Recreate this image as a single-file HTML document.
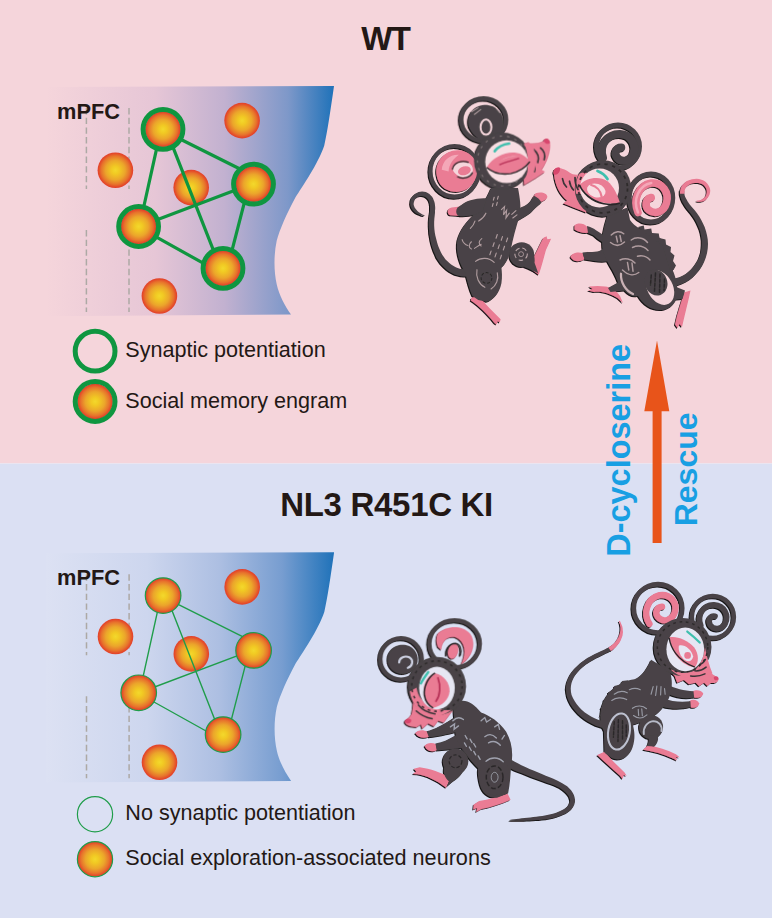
<!DOCTYPE html>
<html lang="en">
<head>
<meta charset="utf-8">
<title>Graphical abstract</title>
<style>
html,body{margin:0;padding:0;background:#fff;}
body{width:773px;height:920px;overflow:hidden;}
svg{display:block;}
text{font-family:"Liberation Sans",sans-serif;}
.b{font-weight:bold;}
</style>
</head>
<body>
<svg width="773" height="920" viewBox="0 0 773 920">
<defs>
  <radialGradient id="neu" cx="50%" cy="50%" r="50%">
    <stop offset="0" stop-color="#f3d82c"/>
    <stop offset="0.22" stop-color="#f1c923"/>
    <stop offset="0.55" stop-color="#eba52b"/>
    <stop offset="0.8" stop-color="#e7732c"/>
    <stop offset="0.93" stop-color="#e44d2a"/>
    <stop offset="1" stop-color="#e33f2a"/>
  </radialGradient>
  <linearGradient id="gtop" x1="0" y1="0" x2="1" y2="0">
    <stop offset="0" stop-color="#f5d5db"/>
    <stop offset="0.38" stop-color="#e6c6d6"/>
    <stop offset="0.62" stop-color="#c2b1d0"/>
    <stop offset="0.84" stop-color="#7e98c9"/>
    <stop offset="1" stop-color="#1f72b9"/>
  </linearGradient>
  <linearGradient id="gbot" x1="0" y1="0" x2="1" y2="0">
    <stop offset="0" stop-color="#dce1f3"/>
    <stop offset="0.35" stop-color="#cdd6ee"/>
    <stop offset="0.6" stop-color="#adbfe2"/>
    <stop offset="0.82" stop-color="#779dd0"/>
    <stop offset="1" stop-color="#1f72b9"/>
  </linearGradient>
  <path id="ctx" d="M46,87 L334,86 C330.3,112 327.3,132 324.2,145.7 C318,164 302,187 295.5,197.3 C287,213 279.5,230 276.7,240.8 C273.5,256 274,272 276.7,284.2 C279,295 285,306 291,314.6 L46,316.2 Z"/>
  <g id="dash" fill="none" stroke="#ada9a5" stroke-width="1.5" stroke-dasharray="6.4 3.3">
    <path d="M86.4,108 V189"/><path d="M86.4,230 V312"/>
    <path d="M129,108 V189"/><path d="M129,230 V312"/>
  </g>
  <g id="plain">
    <circle cx="242.1" cy="120.6" r="17.8" fill="url(#neu)"/>
    <circle cx="115.4" cy="170.2" r="17.8" fill="url(#neu)"/>
    <circle cx="191.2" cy="187.6" r="17.8" fill="url(#neu)"/>
    <circle cx="159.4" cy="296" r="17.8" fill="url(#neu)"/>
  </g>
  <g id="gn">
    <circle cx="163" cy="129.3" r="17.8" fill="url(#neu)"/>
    <circle cx="253.5" cy="184.1" r="17.8" fill="url(#neu)"/>
    <circle cx="138.6" cy="226.5" r="17.8" fill="url(#neu)"/>
    <circle cx="223" cy="268.3" r="17.8" fill="url(#neu)"/>
  </g>
  <path id="net" d="M163,130.5 L253.5,175.75 M249.1,184.1 L227.4,268.3 M223,274.2 L138.6,227.2 M139.4,226.5 L160.9,129.3 M166,129.3 L220.5,268.3 M253.5,183.3 L138.6,226.7" fill="none" stroke-linejoin="round"/>
  <filter id="sh" x="-5%" y="-5%" width="110%" height="110%">
    <feOffset in="SourceAlpha" dx="-1.3" dy="1.3" result="o"/>
    <feFlood flood-color="#171314"/>
    <feComposite in2="o" operator="in"/>
    <feMerge><feMergeNode/><feMergeNode in="SourceGraphic"/></feMerge>
  </filter>
</defs>

<rect x="0" y="0" width="772" height="463.5" fill="#f5d5db"/>
<rect x="0" y="463.5" width="772" height="454.5" fill="#dbe0f3"/>

<!-- TOP PANEL -->
<text class="b" x="385.3" y="49.7" font-size="33" text-anchor="middle" fill="#231815" letter-spacing="-1.5">WT</text>
<use href="#ctx" fill="url(#gtop)"/>
<use href="#dash"/>
<text class="b" x="57" y="119.4" font-size="21.8" fill="#231815">mPFC</text>
<use href="#plain"/>
<use href="#net" stroke="#0f9640" stroke-width="3.2"/>
<use href="#gn"/>
<g stroke="#0f9640" stroke-width="5" fill="none">
  <circle cx="163" cy="129.3" r="19.9"/>
  <circle cx="253.5" cy="184.1" r="19.9"/>
  <circle cx="138.6" cy="226.5" r="19.9"/>
  <circle cx="223" cy="268.3" r="19.9"/>
</g>
<circle cx="95.1" cy="351.2" r="19.9" fill="none" stroke="#0f9640" stroke-width="5"/>
<circle cx="95.1" cy="401.5" r="17.8" fill="url(#neu)"/>
<circle cx="95.1" cy="401.5" r="19.9" fill="none" stroke="#0f9640" stroke-width="5"/>
<text x="125.3" y="357.1" font-size="21.58" fill="#231815">Synaptic potentiation</text>
<text x="125.3" y="407.5" font-size="21.58" fill="#231815">Social memory engram</text>

<!-- BOTTOM PANEL -->
<text class="b" x="386.6" y="515.8" font-size="33" text-anchor="middle" fill="#231815" letter-spacing="-0.3">NL3 R451C KI</text>
<g transform="translate(0.1,466.3)">
  <use href="#ctx" fill="url(#gbot)"/>
  <use href="#dash"/>
  <use href="#plain"/>
  <use href="#net" stroke="#1f9d4a" stroke-width="1.4"/>
  <use href="#gn"/>
  <g stroke="#1f9d4a" stroke-width="1.2" fill="none">
    <circle cx="163" cy="129.3" r="17.8"/>
    <circle cx="253.5" cy="184.1" r="17.8"/>
    <circle cx="138.6" cy="226.5" r="17.8"/>
    <circle cx="223" cy="268.3" r="17.8"/>
  </g>
</g>
<text class="b" x="57" y="585" font-size="21.8" fill="#231815">mPFC</text>
<circle cx="95" cy="814.2" r="17.6" fill="none" stroke="#1f9d4a" stroke-width="1.2"/>
<circle cx="95" cy="859.2" r="17.6" fill="url(#neu)" stroke="#1f9d4a" stroke-width="1.2"/>
<text x="125.3" y="820" font-size="21.58" fill="#231815">No synaptic potentiation</text>
<text x="125.3" y="865.4" font-size="21.63" fill="#231815">Social exploration-associated neurons</text>

<!--MICE-START-->
<g filter="url(#sh)"><g transform="translate(400,190) scale(0.20699)">
<path d="M324,382L312,383L300,382L289,380L278,377L267,372L257,366L247,360L237,352L228,343L219,334L211,323L204,313L197,299L190,284L184,269L179,253L175,237L171,221L168,205L166,189L165,172L165,155L166,139L168,121L169,111L169,102L170,92L170,83L169,74L168,65L166,57L163,49L160,41L155,33L149,26L142,19L134,14L125,10L116,8L107,7L98,8L89,10L81,14L73,18L66,24L60,31L55,38L51,47L50,56L49,65L50,74L53,83L57,91L62,98L69,105L76,111L85,116L95,120L106,124L117,126L119,122L108,118L99,112L91,107L84,101L79,95L74,89L70,83L68,77L66,71L66,65L67,59L69,53L71,47L75,42L79,38L84,35L89,32L95,30L101,29L107,29L112,30L118,31L123,34L128,37L132,41L136,46L139,51L141,57L143,63L144,69L145,76L145,83L145,91L145,100L144,109L142,119L140,136L139,155L139,173L140,191L141,209L144,226L147,244L151,261L156,278L162,295L169,311L176,327L185,341L194,354L204,365L215,376L227,386L239,395L252,402L266,409L281,413L295,417L311,418L326,418Z" fill="#484346"/>
<path d="M345,522 L376,512 C412,548 452,592 486,624 L482,640 L472,634 L466,650 L456,642 C424,602 384,562 342,534 Z" fill="#ea7b94"/>
<path d="M636,345 C655,310 672,270 692,232 L708,224 L712,238 L730,236 L705,290 C694,330 684,372 670,410 L640,388 Z" fill="#ea7b94"/>
<path d="M300,78 L250,84 C228,88 224,112 242,122 L300,126 Z" fill="#ea7b94"/>
<path d="M640,40 L655,16 C680,6 712,14 712,34 C708,50 690,52 672,62 Z" fill="#ea7b94"/>
<path d="M440,-10 C420,40 390,80 350,125 C310,165 280,210 275,260 C272,310 290,360 315,400 C325,440 335,480 350,512 L378,532 L420,540 C450,530 480,500 490,450 C495,420 492,395 490,375 C510,360 525,330 535,290 C545,240 560,180 580,120 C585,80 580,40 570,-10 Z" fill="#484346"/>
<path d="M420,40 C380,40 330,45 300,70 L278,84 C268,100 270,112 280,124 C310,130 340,124 365,118 L400,100 Z" fill="#484346"/>
<path d="M560,95 C585,82 612,78 632,52 L648,28 C665,36 678,48 684,62 C668,72 650,92 636,106 C615,124 590,136 565,150 Z" fill="#484346"/>
<circle cx="588" cy="312" r="60" fill="#484346"/>
<path d="M620,270 C640,290 655,320 650,352 L668,402 C650,395 625,380 600,372 Z" fill="#484346"/>
<path d="M490,95 L505,80 L500,120 L515,98 L512,135 L528,112 M540,118 L560,100 M545,135 L565,120 M470,215 L464,233 M495,225 L489,243 M520,232 L514,250 M455,255 L449,273 M480,265 L474,283 M505,272 L499,290 M440,295 L434,313 M465,305 L459,323 M490,315 L484,333 M455,35 L451,49 M475,30 L471,44 M450,65 L446,79 M470,60 L466,74 M395,235 C380,245 378,262 392,270 M345,250 C330,262 332,280 345,285 M300,240 C305,255 315,265 328,268 M360,282 C372,274 380,268 392,262 M380,150 C395,140 408,128 415,112 M340,185 C350,175 358,165 362,150 M365,345 C390,325 430,325 455,350 M372,385 C365,420 380,455 410,470 M440,478 C465,462 478,430 470,400" fill="none" stroke="#f5d5db" stroke-width="5.5" stroke-linecap="round" opacity="0.6"/>
<circle cx="418" cy="425" r="26" fill="none" stroke="#2b2729" stroke-width="5" stroke-dasharray="14 9"/>
<circle cx="585" cy="310" r="30" fill="none" stroke="#f5d5db" stroke-width="5" stroke-dasharray="22 14" opacity="0.7"/>
<circle cx="585" cy="310" r="12" fill="none" stroke="#f5d5db" stroke-width="4" opacity="0.6"/>
</g>
<g transform="translate(420,90) scale(0.18111)">
<ellipse cx="351" cy="164" rx="124" ry="117" fill="none" stroke="#484346" stroke-width="25"/>
<path d="M275,215 C245,150 290,85 355,82 C420,80 470,130 460,195 C455,240 420,275 375,280 C330,282 295,255 275,215 Z" fill="#484346"/>
<ellipse cx="364" cy="205" rx="30" ry="42" fill="none" stroke="#f5d5db" stroke-width="11"/>
<path d="M285,120 L320,98 M300,135 L335,108 M420,100 L440,125" fill="none" stroke="#f5d5db" stroke-width="6" stroke-linecap="round" opacity="0.6"/>
<ellipse cx="191" cy="449" rx="133" ry="140" fill="none" stroke="#484346" stroke-width="23"/>
<path d="M92,472 C78,398 138,328 215,333 C280,338 324,392 316,455 C306,524 252,568 188,562 C136,556 100,524 92,472 Z" fill="#ea7b94"/>
<path d="M120,440 C125,390 165,355 215,358 C185,380 160,410 158,450 Z" fill="#f4a8b8"/>
<path d="M180,440 C185,405 225,390 262,400 C290,410 300,440 285,465 C262,495 205,490 180,440 Z" fill="#f5d5db"/>
<ellipse cx="245" cy="446" rx="36" ry="24" fill="#ea7b94" transform="rotate(-15 245 446)"/>
<path d="M178,440 C185,400 230,385 268,400 M205,478 C235,495 275,485 290,455" fill="none" stroke="#2b2729" stroke-width="7"/>
<path d="M560,300 C600,290 650,300 682,282 C688,262 712,262 718,290 C724,330 705,395 672,440 L690,452 C660,475 625,495 575,525 Z" fill="#ea7b94"/>
<path d="M682,282 C688,262 712,262 718,290 C712,300 695,302 682,282Z" fill="#d8476d"/>
<circle cx="455" cy="392" r="157" fill="#484346"/>
<path d="M575,290 C610,300 640,330 655,370 C650,420 620,470 585,500 C600,440 600,350 575,290Z" fill="#ea7b94"/>
<path d="M628,330 C650,345 660,375 650,400 M665,320 C685,335 692,360 685,385 M610,400 C630,410 640,430 632,450" fill="none" stroke="#3a3538" stroke-width="9" stroke-linecap="round"/>
<circle cx="455" cy="392" r="138" fill="none" stroke="#f5d5db" stroke-width="6" stroke-dasharray="14 28" opacity="0.35"/>
<circle cx="478" cy="396" r="118" fill="#f8dde2"/>
<path d="M572,300 C598,335 606,370 606,396 C602,440 590,470 572,500 L600,508 C628,470 642,420 640,380 C638,340 620,305 598,288Z" fill="#ea7b94"/>
<path d="M368,428 C400,372 468,342 522,346 C562,350 590,372 606,396 C572,442 520,466 470,462 C420,458 385,446 368,428 Z" fill="#ea7b94"/>
<path d="M420,410 C450,380 500,362 545,368 C520,360 470,362 420,410Z" fill="#f4a8b8"/>
<path d="M368,428 C400,455 450,470 500,462 C550,452 585,425 606,396" fill="none" stroke="#2b2729" stroke-width="8"/>
<path d="M440,412 C470,400 510,390 545,378" fill="none" stroke="#b83358" stroke-width="7" stroke-linecap="round"/>
<path d="M412,338 C430,315 460,300 492,296" fill="none" stroke="#3fbfae" stroke-width="14" stroke-linecap="round"/>
</g></g>
<g filter="url(#sh)"><g transform="translate(545,110) scale(0.25)">
<path d="M501,705L517,704L534,700L550,694L565,687L580,678L594,667L606,654L618,640L628,625L636,609L643,591L648,573L651,554L652,536L651,518L648,501L644,485L639,469L632,454L625,440L617,426L608,413L598,400L588,389L583,383L578,377L574,371L570,365L567,359L564,354L561,348L559,343L558,338L557,333L557,328L557,323L539,321L539,328L539,335L540,342L542,348L544,355L547,362L550,369L554,375L558,382L562,388L567,395L572,401L582,413L591,425L599,437L606,450L612,463L618,477L622,491L625,506L627,521L627,536L626,551L624,567L619,583L613,598L605,611L596,624L586,636L575,646L564,655L552,662L539,668L526,672L513,674L499,675Z" fill="#484346"/>
<path d="M558,335L558,327L559,321L561,315L564,310L567,306L572,302L578,298L584,295L591,293L599,292L606,292L614,292L621,294L627,296L633,299L637,303L641,308L644,313L646,318L647,324L647,329L646,335L644,341L641,347L639,349L636,351L634,353L631,355L629,357L626,358L623,360L620,361L616,361L613,362L610,362L606,363L606,365L609,366L613,367L617,367L621,367L624,367L628,366L632,365L636,364L639,362L643,359L646,357L649,353L654,346L658,339L660,331L661,323L660,315L657,307L653,300L648,293L642,287L634,282L626,279L616,276L606,275L597,276L588,277L579,280L570,283L562,288L556,294L550,300L545,308L542,317L540,326L540,335Z" fill="#ea7b94"/>
<path d="M556,730 L582,722 C572,770 560,815 548,868 L538,856 L530,872 L520,858 C530,810 545,770 556,730Z" fill="#ea7b94"/>
<path d="M176,706 L190,716 L172,722 L196,728 C230,724 262,736 290,752 L312,772 L300,744 C285,722 262,708 240,706 C215,702 195,704 176,706Z" fill="#ea7b94"/>
<path d="M118,462 C130,450 155,452 170,468 L176,490 C160,494 135,490 118,478Z" fill="#ea7b94"/>
<path d="M102,588 C106,572 130,566 150,572 L158,596 C140,610 112,608 102,588Z" fill="#ea7b94"/>
<path d="M168,464 C195,470 215,490 235,500 L262,470 L270,540 C240,540 215,520 195,502 L172,492Z" fill="#484346"/>
<path d="M150,570 C175,565 205,572 225,560 L250,540 L272,600 C240,612 205,606 158,598Z" fill="#484346"/>
<path d="M250,420 C235,470 222,520 232,565 C245,610 275,640 292,690 L252,712 L262,728 L318,722 C335,740 350,748 372,744 C395,785 440,808 480,798 C515,788 535,755 530,720 C528,690 520,660 511,642 C512,600 495,550 474,526 C455,505 435,495 416,490 C390,480 360,470 340,440 L330,390Z" fill="#484346"/>
<path d="M505,700 L560,722 L550,756 L508,760Z" fill="#484346"/>
<path d="M372,468 L395,462 L398,478 L425,474 L428,492 L455,494 L458,512 L482,518 L484,538 L504,548 L502,568 L518,582 L512,604 L524,622 L514,640 L500,640 L470,540 L400,492Z" fill="#484346"/>
<path d="M265,500 C280,485 300,482 315,495 M262,530 C280,545 300,545 318,528 M285,505 L290,528 M300,502 L305,526 M345,520 C365,505 395,510 410,530 M350,550 C372,540 395,545 412,562 M370,585 C390,580 410,588 420,600 M300,600 C320,590 345,595 360,612 M310,640 C330,660 355,665 375,650 M330,610 L335,640 M348,612 L352,645" fill="none" stroke="#f5d5db" stroke-width="6" stroke-linecap="round" opacity="0.6"/>
<path d="M304,655 C302,690 322,722 352,736" fill="none" stroke="#f5d5db" stroke-width="9" stroke-linecap="round" opacity="0.75"/>
<ellipse cx="460" cy="710" rx="51" ry="74" transform="rotate(-28 460 710)" fill="#f5d5db"/>
<ellipse cx="444" cy="690" rx="45" ry="53" transform="rotate(-20 444 690)" fill="#484346"/>
<path d="M425,660 L422,700 M442,652 L438,725 M460,656 L458,732 M478,676 L476,722" fill="none" stroke="#2b2729" stroke-width="6" stroke-linecap="round" stroke-dasharray="13 7"/>
<circle cx="292" cy="146" r="86" fill="none" stroke="#484346" stroke-width="20"/>
<path d="M232,190 C215,140 250,95 300,96 C345,98 368,140 352,178 C340,205 305,212 288,190 C275,172 285,150 305,150" fill="none" stroke="#484346" stroke-width="32" stroke-linecap="round"/>
<ellipse cx="424" cy="352" rx="87" ry="96" fill="none" stroke="#484346" stroke-width="20"/>
<path d="M372,410 C350,360 375,300 425,292 C470,288 498,330 486,372 C476,408 440,420 415,400 C398,385 402,355 425,350" fill="none" stroke="#ea7b94" stroke-width="30" stroke-linecap="round"/>
<path d="M372,410 C350,360 375,300 425,292" fill="none" stroke="#f4a8b8" stroke-width="10" stroke-linecap="round"/>
<path d="M160,250 C135,262 115,262 98,250 C85,240 70,235 60,232 C45,225 30,240 36,258 C40,300 60,340 88,362 L74,374 C100,385 130,395 165,410Z" fill="#ea7b94"/>
<path d="M60,232 C45,225 30,240 36,258 C48,262 62,250 60,232Z" fill="#d8476d"/>
<circle cx="232" cy="314" r="113" fill="#484346"/>
<path d="M138,255 C124,280 120,305 124,335 L150,335 C152,300 160,275 175,255 C160,248 148,248 138,255Z" fill="#ea7b94"/>
<path d="M70,275 C72,290 78,300 86,308 M98,285 C100,300 106,312 114,320 M120,270 C120,290 124,305 132,318" fill="none" stroke="#3a3538" stroke-width="7" stroke-linecap="round"/>
<circle cx="232" cy="314" r="98" fill="none" stroke="#2b2729" stroke-width="7" stroke-dasharray="13 18" opacity="0.9"/>
<circle cx="218" cy="312" r="78" fill="#f8dde2"/>
<path d="M138,300 C165,272 215,262 250,285 C275,305 290,340 300,372 C262,378 215,372 185,352 C165,338 150,320 138,300Z" fill="#ea7b94"/>
<ellipse cx="205" cy="322" rx="38" ry="27" transform="rotate(18 205 322)" fill="#f8dde2"/>
<path d="M185,300 C205,305 222,322 226,345" fill="none" stroke="#ea7b94" stroke-width="9" stroke-linecap="round"/>
<path d="M138,300 C150,330 185,365 235,375 C260,380 285,378 300,372" fill="none" stroke="#2b2729" stroke-width="7"/>
<path d="M210,244 C225,250 240,260 250,276" fill="none" stroke="#3fbfae" stroke-width="11" stroke-linecap="round"/>
</g></g>
<g filter="url(#sh)"><g transform="translate(400,690) scale(0.2458)">
<path d="M422,305L435,312L450,319L466,327L482,334L499,340L516,347L533,354L550,360L567,366L584,372L600,378L616,383L627,388L638,393L649,398L658,404L666,410L673,416L679,422L684,428L688,434L690,441L692,447L692,454L690,460L687,466L683,472L676,478L668,484L658,489L647,494L635,499L622,503L608,507L594,510L579,513L567,514L554,516L542,517L530,519L518,520L507,521L495,522L484,524L474,525L464,526L455,527L446,529L446,531L455,532L464,532L474,532L485,532L496,532L507,532L519,531L531,531L543,530L556,529L568,529L581,527L596,526L611,523L626,520L640,516L654,511L666,506L678,500L688,493L697,486L704,477L709,467L712,456L712,445L710,435L707,426L702,417L696,408L688,400L680,392L670,385L660,379L649,373L637,367L624,361L609,355L593,349L577,342L560,335L543,328L527,321L510,313L494,306L479,298L465,291L451,283L438,275Z" fill="#484346"/>
<path d="M56,320 L80,314 C125,320 165,334 204,358 L188,398 C150,368 110,350 72,343 L52,342 L66,332Z" fill="#ea7b94"/>
<path d="M300,466 L322,452 C360,446 400,434 438,422 L450,446 C412,464 368,476 332,484 L310,496 L314,480 L298,486Z" fill="#ea7b94"/>
<path d="M62,176 C70,162 95,160 112,170 L118,190 C100,198 75,196 62,176Z" fill="#ea7b94"/>
<path d="M100,228 C108,214 130,212 146,220 L150,244 C135,254 108,250 100,228Z" fill="#ea7b94"/>
<path d="M108,168 C140,160 180,140 215,115 L260,120 L250,165 C215,175 170,188 118,192Z" fill="#484346"/>
<path d="M144,218 C175,212 200,200 225,185 L262,200 L250,236 C215,240 180,245 150,246Z" fill="#484346"/>
<path d="M215,60 C250,30 290,40 330,92 C365,105 405,130 432,170 C455,210 462,260 452,305 C450,340 448,380 440,420 L395,438 C360,440 335,420 325,385 C318,360 315,335 318,318 C300,300 285,285 270,262 C250,240 235,215 228,190 C222,160 222,120 215,60Z" fill="#484346"/>
<circle cx="226" cy="290" r="52" fill="#484346"/>
<path d="M180,310 C175,335 180,355 200,372 L188,396 L215,372 C235,360 255,340 262,320Z" fill="#484346"/>
<ellipse cx="385" cy="350" rx="62" ry="78" fill="#484346"/>
<path d="M215,125 C228,112 245,110 258,120 M205,150 L222,138 L220,160 L238,146 M330,125 L345,112 L352,130 L368,120 M385,150 L400,140 L405,160 M345,190 C360,178 378,180 392,195 M360,215 C378,205 395,210 408,225 M415,200 L425,185 M265,185 L273,199 M285,200 L293,214 M300,218 L308,232 M282,232 L290,246 M300,250 L308,264 M318,268 L326,282 M262,215 L270,229 M350,290 C370,272 400,272 420,292" fill="none" stroke="#dbe0f3" stroke-width="5.5" stroke-linecap="round" opacity="0.6"/>
<circle cx="226" cy="290" r="26" fill="none" stroke="#2b2729" stroke-width="5" stroke-dasharray="14 8"/>
<ellipse cx="385" cy="355" rx="34" ry="46" fill="none" stroke="#2b2729" stroke-width="6" stroke-dasharray="20 9"/>
<ellipse cx="385" cy="355" rx="14" ry="20" fill="none" stroke="#dbe0f3" stroke-width="4" opacity="0.5"/>
</g>
<g transform="translate(370,610) scale(0.19406)">
<circle cx="160" cy="252" r="107" fill="none" stroke="#484346" stroke-width="22"/>
<path d="M92,270 C80,210 130,170 185,180 C235,190 258,240 240,285 C225,320 180,340 140,325 C115,315 98,295 92,270Z" fill="#484346"/>
<path d="M150,270 C150,245 180,232 205,245 C225,258 220,290 195,298" fill="none" stroke="#dbe0f3" stroke-width="11" stroke-linecap="round" opacity="0.9"/>
<ellipse cx="436" cy="174" rx="130" ry="121" fill="none" stroke="#484346" stroke-width="22"/>
<path d="M350,120 C395,80 470,75 515,120 C545,160 535,220 495,260 L470,280 C500,220 490,160 440,140 C400,130 370,160 368,205 L350,190 C340,165 340,140 350,120Z" fill="#ea7b94"/>
<ellipse cx="428" cy="212" rx="26" ry="40" transform="rotate(15 428 212)" fill="#ea7b94"/>
<path d="M395,235 C390,200 410,172 440,172 C465,176 475,205 465,235" fill="none" stroke="#2b2729" stroke-width="7"/>
<path d="M225,420 C222,460 225,500 215,535 C205,555 185,560 180,578 C185,598 215,600 240,604 L262,590 L270,612 L300,585 L330,600 L352,570 L380,580 L425,520 L430,470Z" fill="#ea7b94"/>
<path d="M180,578 C178,560 200,555 212,565 C215,580 200,592 180,578Z" fill="#d8476d"/>
<circle cx="345" cy="392" r="150" fill="#484346"/>
<path d="M205,420 C215,480 245,520 290,545 C330,555 380,545 420,515 C380,520 320,510 285,480 C255,455 245,430 240,400Z" fill="#ea7b94"/>
<path d="M238,520 C260,540 290,555 320,560 M250,490 C270,515 300,530 335,535" fill="none" stroke="#3a3538" stroke-width="8" stroke-linecap="round"/>
<circle cx="345" cy="392" r="130" fill="none" stroke="#2b2729" stroke-width="8" stroke-dasharray="14 20" opacity="0.9"/>
<ellipse cx="345" cy="402" rx="92" ry="110" fill="#e6e6f3"/>
<path d="M335,325 C380,335 412,375 410,420 C405,465 370,495 325,505 C290,480 272,440 278,395 C285,360 305,335 335,325Z" fill="#ea7b94"/>
<path d="M350,350 C365,390 362,440 340,470" fill="none" stroke="#b83358" stroke-width="9" stroke-linecap="round"/>
<path d="M335,325 C300,345 275,395 280,440 C285,470 300,492 325,505" fill="none" stroke="#2b2729" stroke-width="8"/>
<path d="M300,320 C285,340 272,358 262,378" fill="none" stroke="#3fbfae" stroke-width="12" stroke-linecap="round"/>
</g></g>
<g filter="url(#sh)"><g transform="translate(560,640) scale(0.20699)">
<path d="M219,394L201,390L184,385L167,378L150,370L135,360L120,350L106,338L93,325L82,312L72,297L63,282L56,266L53,251L52,236L53,221L56,207L61,193L68,179L77,165L88,152L100,139L114,127L129,115L146,104L156,98L167,92L177,86L188,81L198,76L207,71L217,67L226,62L235,58L244,53L252,48L260,43L250,27L242,32L235,36L226,40L218,45L208,49L199,53L189,58L179,63L168,68L157,74L146,80L134,86L117,98L100,110L85,124L72,137L59,152L49,167L41,183L34,200L30,218L28,236L30,254L34,274L41,292L50,310L61,327L74,343L87,358L102,371L119,384L136,395L154,405L173,414L192,420L211,426Z" fill="#484346"/>
<path d="M246,53L253,48L260,42L267,36L273,30L279,23L284,17L289,10L293,2L296,-5L299,-13L302,-20L303,-29L304,-35L304,-42L303,-48L303,-54L302,-59L301,-65L299,-70L297,-75L295,-80L293,-84L291,-89L288,-93L284,-91L286,-87L288,-82L289,-78L290,-73L291,-68L292,-63L292,-58L292,-53L292,-48L291,-42L290,-37L289,-31L287,-25L284,-18L282,-12L278,-6L274,0L270,6L265,12L260,17L254,22L248,27L241,32L234,37Z" fill="#ea7b94"/>
<path d="M180,556 L215,540 C245,575 280,610 312,640 L322,656 L308,652 L302,672 L290,656 C255,625 215,590 180,556Z" fill="#ea7b94"/>
<path d="M402,530 L425,508 C470,515 520,530 560,552 L578,566 L560,566 L566,582 L545,572 C500,550 450,538 402,530Z" fill="#ea7b94"/>
<path d="M640,250 C655,238 682,242 692,258 C690,276 665,284 645,276Z" fill="#ea7b94"/>
<path d="M626,296 C640,284 665,288 672,306 C670,326 645,334 628,322Z" fill="#ea7b94"/>
<path d="M520,215 C555,235 600,245 645,248 L648,278 C610,285 565,280 525,262Z" fill="#484346"/>
<path d="M500,280 C540,300 590,300 630,296 L632,324 C590,335 540,335 495,322Z" fill="#484346"/>
<path d="M440,95 C420,140 395,175 360,190 C320,195 280,215 245,245 C215,275 195,320 195,370 C195,400 200,420 212,440 L215,545 L250,570 C290,590 335,565 350,520 C365,480 360,440 352,410 C400,395 440,380 470,355 C500,330 525,295 535,255 C545,215 540,180 530,150Z" fill="#484346"/>
<path d="M330,195 L300,198 L292,215 L262,222 L258,242 L232,252 L232,275 L210,290 L214,312 L196,330 L202,350 L190,372 L230,330 L290,250Z" fill="#484346"/>
<circle cx="440" cy="420" r="58" fill="#484346"/>
<path d="M470,455 C480,480 470,500 455,515 L420,512 C430,495 432,478 425,465Z" fill="#484346"/>
<ellipse cx="285" cy="442" rx="52" ry="88" transform="rotate(10 285 442)" fill="none" stroke="#dbe0f3" stroke-width="10" opacity="0.8"/>
<path d="M262,395 L258,470 M282,385 L280,490 M302,390 L302,485 M320,410 L320,465" fill="none" stroke="#2b2729" stroke-width="7" stroke-linecap="round" stroke-dasharray="16 8"/>
<path d="M405,455 C400,425 420,395 450,392 C478,392 495,415 490,440" fill="none" stroke="#dbe0f3" stroke-width="9" opacity="0.75" stroke-linecap="round"/>
<path d="M262,262 C280,248 305,245 325,255 M250,292 C270,278 300,275 322,288 M335,240 C352,232 372,232 388,240 M350,330 C370,315 400,315 418,332 M355,365 C375,380 400,380 420,362 M378,335 L380,365 M395,333 L398,366 M450,225 L440,262 M468,222 L462,268 M488,225 L486,265 M505,235 L508,262" fill="none" stroke="#dbe0f3" stroke-width="5.5" stroke-linecap="round" opacity="0.55"/>
</g>
<g transform="translate(620,575) scale(0.16818)">
<circle cx="226" cy="198" r="144" fill="none" stroke="#484346" stroke-width="28"/>
<path d="M175,290 C135,230 160,140 235,120 C300,110 345,165 325,225 C310,270 255,285 225,250 C205,222 220,190 250,188" fill="none" stroke="#ea7b94" stroke-width="38" stroke-linecap="round"/>
<circle cx="552" cy="250" r="125" fill="none" stroke="#484346" stroke-width="27"/>
<path d="M480,300 C455,240 495,175 560,178 C620,182 650,240 625,290 C605,325 555,330 535,295 C520,265 540,240 565,245" fill="none" stroke="#484346" stroke-width="34" stroke-linecap="round"/>
<path d="M490,430 C505,480 520,540 545,585 C560,598 580,602 586,620 C584,640 560,645 540,642 L520,660 L500,640 L470,662 L450,640 L410,650 L380,625 L340,640 L325,600 L295,570Z" fill="#ea7b94"/>
<path d="M586,620 C588,604 572,598 558,606 C555,622 570,634 586,620Z" fill="#d8476d"/>
<circle cx="372" cy="428" r="172" fill="#484346"/>
<path d="M300,560 C340,600 400,620 460,610 C500,600 535,590 550,585 C530,540 515,480 505,430 C500,480 480,540 440,570 C400,590 350,585 300,560Z" fill="#ea7b94"/>
<path d="M420,600 C450,605 480,600 505,588 M445,570 C470,572 495,562 512,548 M468,535 C485,530 500,518 508,502" fill="none" stroke="#3a3538" stroke-width="9" stroke-linecap="round"/>
<circle cx="372" cy="428" r="150" fill="none" stroke="#2b2729" stroke-width="9" stroke-dasharray="16 22" opacity="0.9"/>
<ellipse cx="388" cy="442" rx="112" ry="130" fill="#e6e6f3"/>
<path d="M292,372 C330,360 400,385 440,430 C470,470 470,520 445,548 C400,545 350,510 325,465 C308,432 298,400 292,372Z" fill="#ea7b94"/>
<path d="M350,420 C380,410 425,440 435,485 C430,515 405,520 385,505 C360,485 345,450 350,420Z" fill="#e6e6f3"/>
<circle cx="402" cy="478" r="20" fill="#ea7b94"/>
<path d="M292,372 C300,430 340,510 445,548" fill="none" stroke="#2b2729" stroke-width="8"/>
<path d="M400,336 C425,355 452,378 474,402" fill="none" stroke="#3fbfae" stroke-width="13" stroke-linecap="round"/>
</g></g>
<!--MICE-END-->
<!-- ARROW -->
<path d="M657,340.5 L669.3,411.3 L661.6,411.3 L661.6,543 L652.6,543 L652.6,411.3 L644.3,411.3 Z" fill="#e8541a"/>
<text class="b" transform="translate(629.7,556.7) rotate(-90)" font-size="32.45" fill="#189fe3">D-cycloserine</text>
<text class="b" transform="translate(697,526.3) rotate(-90)" font-size="32" fill="#189fe3">Rescue</text>

</svg>
</body>
</html>
